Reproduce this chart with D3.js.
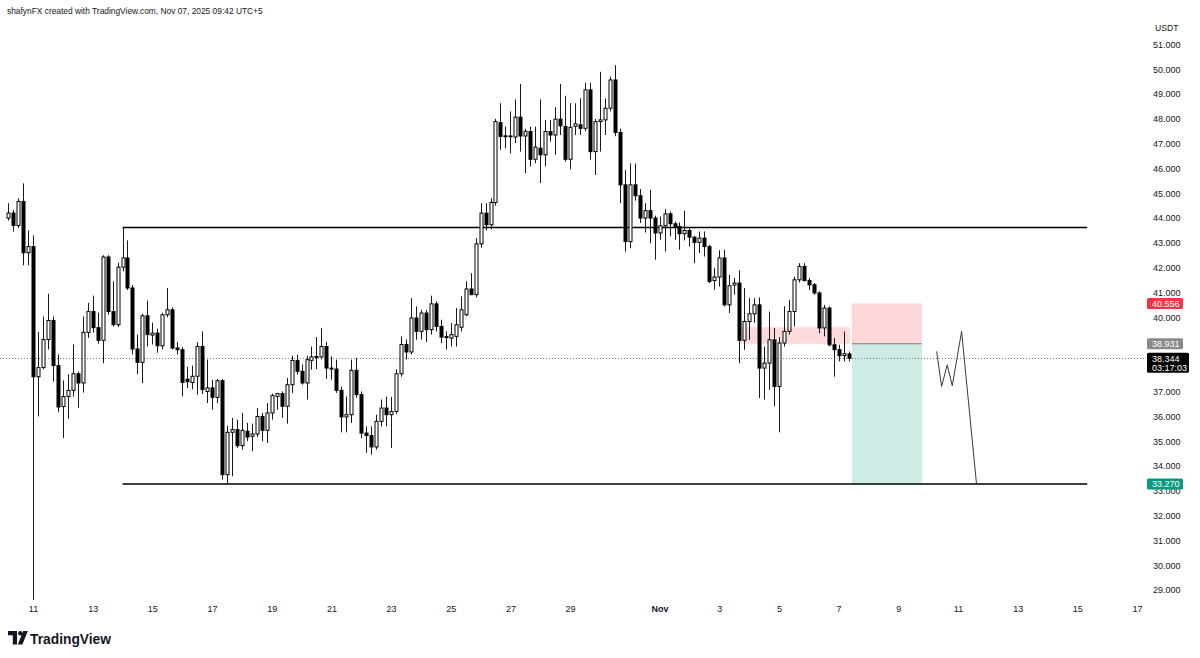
<!DOCTYPE html>
<html><head><meta charset="utf-8">
<script src="https://cdn.jsdelivr.net/npm/d3@7"></script>
<style>
html,body{margin:0;padding:0;background:#fff;}
svg{display:block;font-family:"Liberation Sans",Arial,sans-serif;}
</style></head><body>
<svg id="chart" width="1200" height="658"></svg>
<script>
// ---------- DATA ----------
const firstBar = "2025-10-10T05:00:00Z"; // 4h bars, UTC+5 wall clock
const barHours = 4;
const open = [
44.0,44.2,43.7,44.67,42.6,42.85,37.6,37.97,39.1,39.87,
38.05,36.4,36.8,37.05,37.72,37.35,39.39,40.23,39.58,39.07,
42.43,40.23,39.7,42.02,42.39,41.18,38.72,38.18,40.06,39.28,
39.36,38.85,40.1,40.3,38.76,38.69,37.5,37.37,37.62,38.82,
37.01,37.15,36.77,37.44,33.65,35.36,35.47,34.82,35.4,35.2,
35.29,36.0,35.44,36.14,36.81,36.92,36.41,37.28,38.26,37.82,
37.35,38.26,38.42,38.4,38.82,37.95,37.91,37.05,35.98,36.07,
37.86,36.88,35.33,35.23,34.77,35.8,36.34,36.07,36.2,37.72,
38.9,38.6,39.97,39.43,40.17,39.5,40.54,39.63,39.22,39.16,
39.23,39.6,40.1,41.14,40.91,42.96,44.2,43.73,44.63,47.85,
47.32,47.29,47.27,48.07,47.31,47.49,46.37,46.82,46.55,47.49,
47.35,47.99,47.69,46.37,47.7,47.76,47.62,49.17,46.68,47.89,
47.96,48.43,49.57,47.45,45.34,43.05,45.34,44.9,44.0,44.3,
44.0,43.4,43.69,44.17,43.77,43.66,43.37,43.5,43.23,43.02,
43.19,42.85,41.48,41.62,42.39,40.5,41.3,41.38,39.07,39.83,
40.14,40.5,37.95,38.15,39.09,37.21,38.96,39.43,40.23,41.51,
42.05,41.48,41.31,40.98,39.57,40.37,38.89,38.69,38.45,38.52];
const high = [
44.6,44.33,44.8,45.4,43.5,43.3,39.4,40.03,40.95,40.03,
38.5,37.45,37.7,38.9,37.8,40.03,40.58,40.87,40.18,42.5,
42.5,41.45,42.2,43.62,43.1,41.3,39.3,40.14,40.67,39.78,
39.54,40.18,41.18,40.4,39.0,38.8,38.0,38.05,39.0,39.43,
38.29,37.48,37.51,37.5,35.63,35.94,35.87,36.14,35.74,35.71,
36.34,36.14,36.54,36.92,36.95,37.01,37.55,38.45,38.49,38.09,
38.45,38.82,39.2,39.57,39.0,38.42,38.29,37.2,36.81,38.29,
38.36,37.01,35.6,35.6,36.07,36.68,36.8,36.79,37.9,39.23,
39.1,40.77,40.44,40.3,40.3,40.87,40.64,39.9,39.43,39.77,
40.37,40.84,41.45,41.78,43.19,44.6,44.6,44.8,48.0,48.63,
47.69,48.3,48.79,49.41,47.6,47.69,47.69,48.79,47.96,47.96,
48.47,49.41,48.93,48.63,48.63,48.83,49.46,49.46,48.0,49.9,
48.83,49.7,50.17,47.6,45.94,46.21,46.2,45.17,44.6,45.14,
44.1,44.06,44.36,44.26,43.86,43.82,44.3,43.59,43.28,43.46,
43.46,42.92,41.98,42.7,42.72,41.71,41.58,41.89,41.18,40.77,
40.77,40.8,38.82,40.23,39.57,39.2,40.44,40.7,41.64,42.18,
42.18,41.58,41.38,41.04,40.5,40.44,39.16,38.89,39.43,38.62];
const low = [
43.9,43.45,43.6,42.1,42.1,28.6,36.0,37.9,38.7,37.4,
36.17,35.13,35.9,36.8,36.35,36.96,39.17,39.38,38.93,38.15,
40.1,39.63,39.6,41.85,41.1,38.5,37.7,37.35,38.82,38.9,
38.57,38.7,40.0,38.7,38.5,36.81,37.15,37.1,36.88,36.9,
36.54,36.27,36.54,33.45,33.27,33.59,34.73,34.66,35.0,34.6,
35.17,35.0,34.93,35.87,36.27,35.94,35.71,36.95,37.68,37.28,
36.68,37.88,37.91,38.3,37.51,37.48,36.95,35.36,35.36,35.74,
36.75,35.13,34.53,34.46,34.66,35.6,35.6,34.73,36.1,37.6,
38.3,38.5,39.09,39.1,39.0,39.3,39.43,38.96,38.69,38.82,
38.82,39.43,40.04,40.9,40.8,42.8,43.5,43.55,44.5,46.75,
46.82,46.6,47.02,46.68,45.81,46.08,46.21,45.41,46.08,47.08,
46.55,47.35,46.28,45.97,47.35,47.35,47.5,46.35,45.74,46.68,
47.35,48.3,47.3,44.6,42.65,42.79,44.7,43.8,43.42,42.99,
42.32,43.12,42.65,43.26,43.12,42.72,43.1,42.85,42.18,42.59,
42.45,41.38,41.11,41.24,40.44,40.17,40.91,38.15,38.69,39.09,
39.77,36.74,36.68,37.08,36.41,35.36,38.82,39.3,39.63,41.4,
41.44,41.1,40.91,39.36,39.23,38.82,37.6,38.22,38.22,38.22];
const close = [
44.2,43.7,44.67,42.6,42.85,37.6,37.97,39.1,39.87,38.05,
36.38,36.8,37.05,37.72,37.35,39.39,40.23,39.58,39.07,42.43,
40.23,39.7,42.02,42.39,41.18,38.72,38.18,40.06,39.3,39.36,
38.85,40.1,40.3,38.76,38.69,37.37,37.4,37.62,38.82,37.08,
37.15,36.77,37.44,33.65,35.36,35.47,34.82,35.44,35.17,35.29,
36.0,35.44,36.14,36.84,36.92,36.41,37.28,38.26,37.82,37.35,
38.29,38.4,38.38,38.82,37.95,37.91,37.05,35.98,36.07,37.86,
36.88,35.33,35.23,34.77,35.8,36.34,36.07,36.2,37.72,38.9,
38.6,39.97,39.43,40.17,39.5,40.54,39.63,39.2,39.18,39.3,
39.7,40.3,41.14,40.91,42.96,44.2,43.73,44.63,47.89,47.29,
47.28,47.31,48.07,47.31,47.5,46.37,46.86,46.55,47.49,47.35,
47.99,47.72,46.37,47.66,47.8,47.62,49.17,46.68,47.89,47.96,
48.43,49.57,47.45,45.34,43.05,45.34,44.9,44.0,44.3,44.0,
43.4,43.69,44.17,43.77,43.66,43.37,43.5,43.23,43.02,43.19,
42.85,41.44,41.62,42.39,40.5,41.27,41.38,39.07,39.83,40.14,
40.5,37.95,38.15,39.09,37.21,38.96,39.43,40.23,41.51,42.05,
41.48,41.31,40.98,39.57,40.37,38.89,38.69,38.45,38.53,38.344];

const priceTicks = [51,50,49,48,47,46,45,44,43,42,41,40,37,36,35,34,33,32,31,30,29];
const timeTickDates = ["2025-10-11","2025-10-13","2025-10-15","2025-10-17","2025-10-19","2025-10-21","2025-10-23","2025-10-25","2025-10-27","2025-10-29","2025-11-01","2025-11-03","2025-11-05","2025-11-07","2025-11-09","2025-11-11","2025-11-13","2025-11-15","2025-11-17"];
const timeTickLabels = ["11","13","15","17","19","21","23","25","27","29","Nov","3","5","7","9","11","13","15","17"];

const levelPrices = [43.62, 33.27];
const levelTimes = ["2025-10-14T01:00:00Z","2025-11-15T09:00:00Z"];
const lastPrice = 38.344;
const countdown = "03:17:03";
const zoneTimes = ["2025-11-03T17:00:00Z","2025-11-07T10:00:00Z"];
const zonePrices = [39.6, 38.931];
const positionTimes = ["2025-11-07T11:40:00Z","2025-11-09T20:00:00Z"];
const positionPrices = [40.556, 38.931, 33.27]; // stop, entry, target
const pathTimes = ["2025-11-10T07:50:00Z","2025-11-10T11:50:00Z","2025-11-10T16:20:00Z","2025-11-10T20:25:00Z","2025-11-11T03:55:00Z","2025-11-11T15:55:00Z"];
const pathPrices = [38.62, 37.21, 38.08, 37.24, 39.43, 33.27];

// ---------- SCALES ----------
const svg = d3.select("#chart");
const x = d3.scaleUtc()
  .domain([new Date("2025-10-11T01:00:00Z"), new Date("2025-11-17T01:00:00Z")])
  .range([33, 1137]);
const y = d3.scaleLinear().domain([29, 51]).range([590, 44.5]);
const T = s => new Date(s);

// clip
svg.append("defs").append("clipPath").attr("id","plot")
  .append("rect").attr("x",0).attr("y",0).attr("width",1145).attr("height",602);

// header
svg.append("text").attr("x",7).attr("y",13.5)
  .attr("font-size",8.4).attr("fill","#131722")
  .text("shafynFX created with TradingView.com, Nov 07, 2025 09:42 UTC+5");

const plot = svg.append("g").attr("clip-path","url(#plot)");

// zone rect
plot.append("rect")
  .attr("x", x(T(zoneTimes[0]))).attr("width", x(T(zoneTimes[1])) - x(T(zoneTimes[0])))
  .attr("y", y(zonePrices[0])).attr("height", y(zonePrices[1]) - y(zonePrices[0]))
  .attr("fill","#f23645").attr("fill-opacity",0.18);

// position tool
const px0 = x(T(positionTimes[0])), px1 = x(T(positionTimes[1]));
plot.append("rect").attr("x",px0).attr("width",px1-px0)
  .attr("y",y(positionPrices[0])).attr("height",y(positionPrices[1])-y(positionPrices[0]))
  .attr("fill","#f23645").attr("fill-opacity",0.2);
plot.append("rect").attr("x",px0).attr("width",px1-px0)
  .attr("y",y(positionPrices[1])).attr("height",y(positionPrices[2])-y(positionPrices[1]))
  .attr("fill","#089981").attr("fill-opacity",0.2);
plot.append("line").attr("x1",px0).attr("x2",px1)
  .attr("y1",y(positionPrices[1])).attr("y2",y(positionPrices[1]))
  .attr("stroke","#787b86").attr("stroke-width",1);

// last price dotted line
plot.append("line").attr("x1",0).attr("x2",1145)
  .attr("y1",Math.round(y(lastPrice))+0.5).attr("y2",Math.round(y(lastPrice))+0.5)
  .attr("stroke","#787b86").attr("stroke-width",1).attr("stroke-dasharray","1,2");

// horizontal levels
plot.selectAll("line.level").data(levelPrices).join("line").attr("class","level")
  .attr("x1", x(T(levelTimes[0]))).attr("x2", x(T(levelTimes[1])))
  .attr("y1", d => y(d)).attr("y2", d => y(d))
  .attr("stroke","#000").attr("stroke-width",1.5);

// candles
const bars = open.map((o,i)=>({
  t: d3.utcHour.offset(T(firstBar), i*barHours), o, h: high[i], l: low[i], c: close[i]
}));
const cg = plot.append("g");
cg.selectAll("line.wick").data(bars).join("line").attr("class","wick")
  .attr("x1", d => Math.round(x(d.t))+0.5).attr("x2", d => Math.round(x(d.t))+0.5)
  .attr("y1", d => y(d.h)).attr("y2", d => y(d.l))
  .attr("stroke","#1a1a1a").attr("stroke-width",1);
cg.selectAll("rect.body").data(bars).join("rect").attr("class","body")
  .attr("x", d => Math.round(x(d.t)) - 1)
  .attr("width", 3)
  .attr("y", d => y(Math.max(d.o,d.c)))
  .attr("height", d => Math.max(0.8, Math.abs(y(d.o)-y(d.c))))
  .attr("fill", d => d.c >= d.o ? "#fff" : "#000")
  .attr("stroke","#000").attr("stroke-width",1);

// projection path
plot.append("path")
  .datum(pathTimes.map((t,i)=>[x(T(t)), y(pathPrices[i])]))
  .attr("d", d3.line())
  .attr("fill","none").attr("stroke","#3a3a3a").attr("stroke-width",1);

// ---------- AXES ----------
const yAxis = d3.axisRight(y).tickValues(priceTicks).tickFormat(d3.format(".3f")).tickSize(0).tickPadding(0);
const ya = svg.append("g").attr("transform","translate(1153,0)").call(yAxis);
ya.select(".domain").remove();
ya.selectAll("text").attr("font-size",9).attr("fill","#131722").attr("font-family","Liberation Sans, Arial, sans-serif");
svg.append("text").attr("x",1155).attr("y",31).attr("font-size",8.6).attr("fill","#131722").text("USDT");

const xAxis = d3.axisBottom(x).tickValues(timeTickDates.map(d => new Date(d+"T01:00:00Z")))
  .tickFormat((d,i) => timeTickLabels[i]).tickSize(0).tickPadding(0);
const xa = svg.append("g").attr("transform","translate(0,606)").call(xAxis);
xa.select(".domain").remove();
xa.selectAll("text").attr("font-size",9).attr("fill","#131722").attr("font-family","Liberation Sans, Arial, sans-serif")
  .attr("font-weight",(d,i)=> timeTickLabels[i]==="Nov" ? "bold" : null);

// price labels
function priceTag(val, fill, lines, w){
  const h = lines.length === 1 ? 11 : 20;
  const cy = y(val);
  const g = svg.append("g");
  g.append("rect").attr("x",1147).attr("y", cy - 5.5).attr("width",w).attr("height",h)
    .attr("rx",1.5).attr("fill",fill);
  lines.forEach((s,i)=> g.append("text").attr("x",1152).attr("y", cy + 3.2 + i*9.5)
    .attr("font-size",9).attr("fill","#fff").text(s));
}
priceTag(positionPrices[0], "#f23645", [d3.format(".3f")(positionPrices[0])], 36);
priceTag(positionPrices[1], "#8a8a8a", [d3.format(".3f")(positionPrices[1])], 36);
priceTag(lastPrice, "#000", [d3.format(".3f")(lastPrice), countdown], 42);
priceTag(positionPrices[2], "#089981", [d3.format(".3f")(positionPrices[2])], 36);

// TradingView logo
const logo = svg.append("g").attr("fill","#131722");
logo.append("path").attr("d","M8,631 h9 v13.5 h-4.2 v-9.3 h-4.8 z");
logo.append("circle").attr("cx",20.3).attr("cy",633.2).attr("r",2.2);
logo.append("path").attr("d","M23.2,631 h4.6 l-5.4,13.5 h-4.6 z");
svg.append("text").attr("x",30).attr("y",643.5).attr("font-size",13.8).attr("font-weight","bold")
  .attr("fill","#131722").text("TradingView");
</script>
</body></html>
